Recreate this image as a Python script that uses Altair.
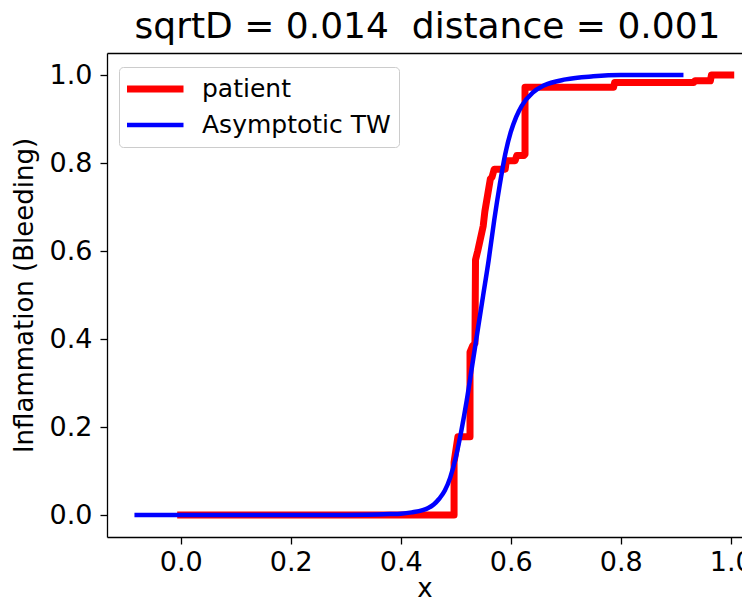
import altair as alt
import pandas as pd

# ---- data ----
series_names = ["patient", "Asymptotic TW"]
series_colors = ["#ff0000", "#0000ff"]
series_widths = [7, 4.5]

patient_x = [0.0, 0.497, 0.497, 0.504, 0.526, 0.526, 0.531, 0.535, 0.536, 0.540,
             0.550, 0.553, 0.563, 0.566, 0.570, 0.590, 0.592, 0.608, 0.611, 0.624,
             0.626, 0.626, 0.787, 0.789, 0.933, 0.935, 0.963, 0.965, 1.0]
patient_y = [0.0, 0.0, 0.12, 0.178, 0.178, 0.37, 0.385, 0.39, 0.58, 0.60,
             0.657, 0.69, 0.764, 0.768, 0.786, 0.786, 0.805, 0.805, 0.817, 0.817,
             0.82, 0.972, 0.972, 0.983, 0.983, 0.987, 0.987, 1.0, 1.0]

tw_x = [-0.08, 0.30, 0.38, 0.40, 0.42, 0.44, 0.45, 0.46, 0.47, 0.48, 0.49, 0.50,
        0.51, 0.52, 0.53, 0.54, 0.55, 0.56, 0.57, 0.58, 0.59, 0.60, 0.61, 0.62,
        0.64, 0.66, 0.70, 0.75, 0.80, 0.91]
tw_y = [0.0, 0.0, 0.002, 0.003, 0.006, 0.011, 0.016, 0.024, 0.037, 0.055, 0.085, 0.13,
        0.19, 0.26, 0.34, 0.42, 0.50, 0.58, 0.67, 0.75, 0.82, 0.87, 0.905, 0.93,
        0.96, 0.976, 0.99, 0.997, 1.0, 1.0]

x_ticks = [0.0, 0.2, 0.4, 0.6, 0.8, 1.0]
y_ticks = [0.0, 0.2, 0.4, 0.6, 0.8, 1.0]
# second space is a no-break space so the double gap survives SVG whitespace collapsing
title_text = "sqrtD = 0.014 \u00a0distance = 0.001"
x_title = "x"
y_title = "Inflammation (Bleeding)"

df_p = pd.DataFrame({"x": patient_x, "y": patient_y,
                     "series": series_names[0], "i": list(range(len(patient_x)))})
df_b = pd.DataFrame({"x": tw_x, "y": tw_y,
                     "series": series_names[1], "i": list(range(len(tw_x)))})

FONT = "DejaVu Sans"
x_scale = alt.Scale(domain=[-0.134, 1.0205], nice=False, zero=False)
y_scale = alt.Scale(domain=[-0.05, 1.05], nice=False, zero=False)

legend = alt.Legend(
    title=None, orient="none", legendX=12, legendY=14,
    symbolType="stroke", symbolSize=3249, symbolOffset=-4,
    labelFontSize=25, labelFont=FONT,
    labelColor="black", labelOffset=15, labelLimit=0, clipHeight=28, rowPadding=8,
    padding=8, fillColor="rgba(255,255,255,0.8)", strokeColor="#cccccc",
    cornerRadius=4,
)
color = alt.Color("series:N", scale=alt.Scale(domain=series_names, range=series_colors),
                  legend=legend)
width_enc = alt.StrokeWidth("series:N", scale=alt.Scale(domain=series_names, range=series_widths),
                            legend=legend)

red = alt.Chart(df_p).mark_line(strokeCap="square", strokeJoin="round", clip=True).encode(
    x=alt.X("x:Q", scale=x_scale,
            axis=alt.Axis(values=x_ticks, format=".1f", title=x_title, orient="bottom",
                          labelPadding=5, titlePadding=0)),
    y=alt.Y("y:Q", scale=y_scale,
            axis=alt.Axis(values=y_ticks, format=".1f", title=y_title, labelPadding=8,
                          titlePadding=12)),
    color=color, strokeWidth=width_enc, order=alt.Order("i:Q"),
)
blue = alt.Chart(df_b).mark_line(strokeCap="square", strokeJoin="round", clip=True,
                                 interpolate="monotone").encode(
    x=alt.X("x:Q", scale=x_scale,
            axis=alt.Axis(orient="top", labels=False, ticks=False, title=None,
                          minExtent=0, maxExtent=0)),
    y=alt.Y("y:Q", scale=y_scale),
    color=color, strokeWidth=width_enc, order=alt.Order("i:Q"),
)

chart = alt.layer(red, blue).properties(
    width=635, height=484,
    title=alt.Title(title_text, fontSize=36, font=FONT, fontWeight="normal",
                    color="black", offset=7, anchor="middle", dx=3, limit=700),
    autosize=alt.AutoSizeParams(type="none"),
    padding={"left": 99, "top": 45, "right": 0, "bottom": 62},
).configure_view(stroke=None).configure_axis(
    grid=False, labelFont=FONT, labelFontSize=27, labelColor="black",
    titleFont=FONT, titleFontSize=26, titleFontWeight="normal", titleColor="black",
    tickColor="black", tickSize=7, tickWidth=1.3, domainColor="black", domainWidth=1.3,
)

chart.save("out.html", embed_options={"renderer": "svg", "actions": False})
